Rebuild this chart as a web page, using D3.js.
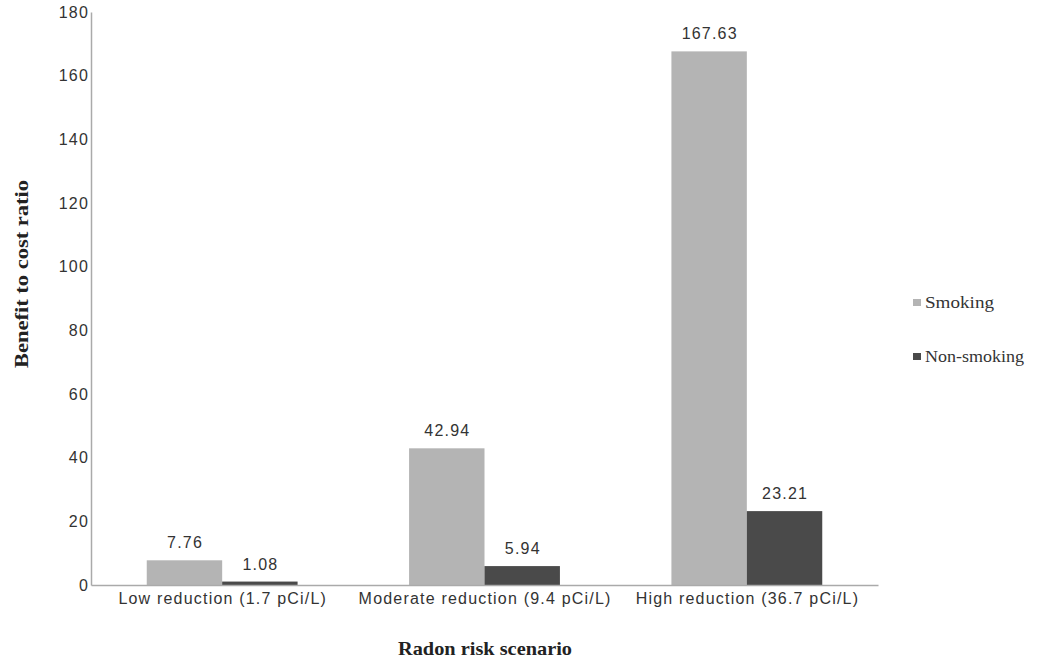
<!DOCTYPE html>
<html><head><meta charset="utf-8">
<script src="https://cdn.jsdelivr.net/npm/d3@7"></script>
<style>body{margin:0;background:#fff}</style>
</head><body>
<svg id="c" width="1045" height="662"></svg>
<script>
const categories = ["Low reduction (1.7 pCi/L)", "Moderate reduction (9.4 pCi/L)", "High reduction (36.7 pCi/L)"];
const seriesNames = ["Smoking", "Non-smoking"];
const smoking = [7.76, 42.94, 167.63];
const nonSmoking = [1.08, 5.94, 23.21];
const yTicks = [0, 20, 40, 60, 80, 100, 120, 140, 160, 180];
const colors = ["#b4b4b4", "#4a4a4a"];

const SANS = "Liberation Sans, Arial, sans-serif";
const SERIF = "Liberation Serif, Times New Roman, serif";
const svg = d3.select("#c");
const L = 91, R = 878, T = 12, B = 585;
const x0 = d3.scaleBand().domain(categories).range([L, R]).paddingInner(0.425).paddingOuter(0.2125);
const x1 = d3.scaleBand().domain(seriesNames).range([0, x0.bandwidth()]).padding(0);
const y = d3.scaleLinear().domain([0, 180]).range([B, T]);
const vals = [smoking, nonSmoking];

// bars
categories.forEach((c, i) => {
  seriesNames.forEach((s, j) => {
    const v = vals[j][i];
    svg.append("rect").attr("x", x0(c) + x1(s)).attr("width", x1.bandwidth())
      .attr("y", y(v)).attr("height", y(0) - y(v)).attr("fill", colors[j]);
    svg.append("text").attr("x", x0(c) + x1(s) + x1.bandwidth() / 2 + 0.6).attr("y", y(v) - 12)
      .attr("text-anchor", "middle").attr("font-family", SANS).attr("letter-spacing", 1.2)
      .attr("font-size", 16).attr("fill", "#333").text(v.toFixed(2));
  });
});

// y axis
const ya = svg.append("g").attr("transform", `translate(${L},0)`)
  .call(d3.axisLeft(y).tickValues(yTicks).tickSize(0).tickPadding(2));
ya.select(".domain").attr("stroke", "#aaa").attr("stroke-width", 1.5);
ya.selectAll("text").attr("font-family", SANS).attr("font-size", 16).attr("letter-spacing", 1.2).attr("fill", "#333");

// x axis
const xa = svg.append("g").attr("transform", `translate(0,${B})`)
  .call(d3.axisBottom(x0).tickSize(0).tickPadding(8));
xa.select(".domain").attr("stroke", "#aaa").attr("stroke-width", 1.5);
xa.selectAll("text").attr("font-family", SANS).attr("font-size", 16).attr("letter-spacing", 1.2).attr("fill", "#333")
  .attr("dx", 0.6);

// titles
svg.append("text").attr("x", 485).attr("y", 655).attr("text-anchor", "middle")
  .attr("font-family", SERIF).attr("font-weight", "bold").attr("font-size", 19)
  .attr("textLength", 174).attr("lengthAdjust", "spacingAndGlyphs")
  .attr("fill", "#222").text("Radon risk scenario");
svg.append("text").attr("transform", `translate(28,274) rotate(-90)`).attr("text-anchor", "middle")
  .attr("font-family", SERIF).attr("font-weight", "bold").attr("font-size", 19)
  .attr("textLength", 188).attr("lengthAdjust", "spacingAndGlyphs")
  .attr("fill", "#222").text("Benefit to cost ratio");

// legend
const legendLen = [69, 99];
seriesNames.forEach((s, j) => {
  const ly = 303 + j * 54;
  svg.append("rect").attr("x", 913).attr("y", ly - 4).attr("width", 8).attr("height", 7).attr("fill", colors[j]);
  svg.append("text").attr("x", 925).attr("y", ly + 5).attr("font-family", SERIF)
    .attr("font-size", 16).attr("textLength", legendLen[j]).attr("lengthAdjust", "spacingAndGlyphs")
    .attr("fill", "#333").text(s);
});
</script>
</body></html>
